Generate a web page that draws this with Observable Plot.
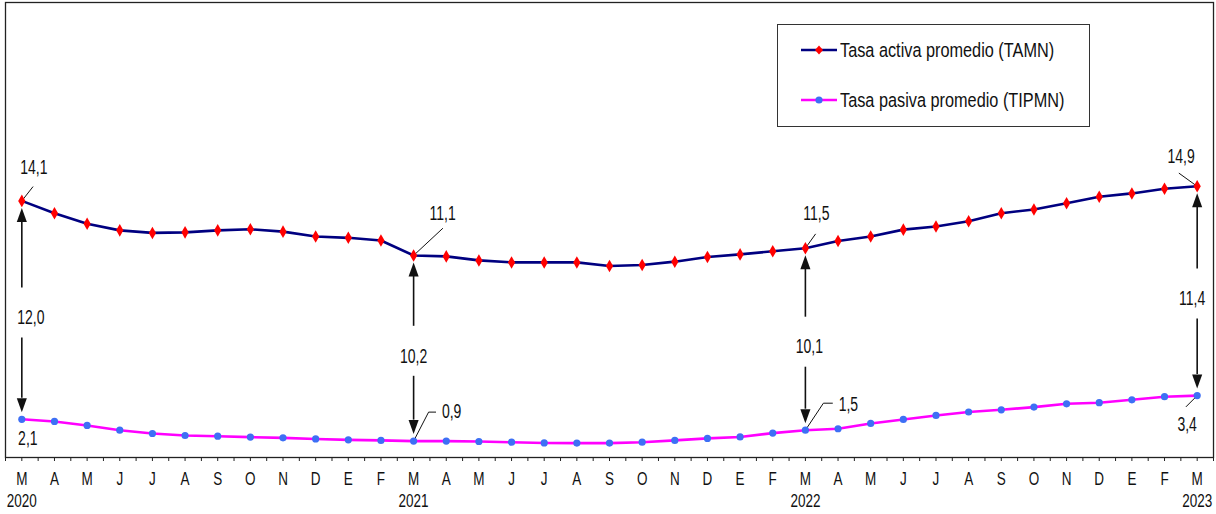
<!DOCTYPE html>
<html><head><meta charset="utf-8">
<script src="https://cdn.jsdelivr.net/npm/d3@7"></script>
<script src="https://cdn.jsdelivr.net/npm/@observablehq/plot@0.6"></script>
<style>
html,body{margin:0;padding:0;background:#fff;}
#wrap{position:relative;width:1216px;height:514px;}
.nf{font-family:"Liberation Sans",Arial,sans-serif;}
#legend{position:absolute;left:777px;top:24px;width:313px;height:103px;border:1px solid #333;box-sizing:border-box;background:#fff;}
.item{position:absolute;left:22px;display:flex;align-items:center;font-size:16.3px;color:#111;white-space:nowrap;}
.item svg{margin-right:2px;}
.item span{display:inline-block;transform:scaleY(1.28);}
</style></head><body>
<div id="wrap"></div>
<script>
// ---- data ----
const monthInitials = ["M","A","M","J","J","A","S","O","N","D","E","F"]; // starting March
const yearLabels = ["2020","2021","2022","2023"];
const yearIndex = [0, 12, 24, 36];
const seriesNames = ["Tasa activa promedio (TAMN)", "Tasa pasiva promedio (TIPMN)"];
const tamn = [14.1, 13.42, 12.84, 12.48, 12.34, 12.37, 12.48, 12.54, 12.41, 12.14, 12.07, 11.92,
              11.1, 11.05, 10.83, 10.72, 10.72, 10.72, 10.52, 10.58, 10.76, 11.02, 11.16, 11.33,
              11.5, 11.9, 12.14, 12.52, 12.69, 12.98, 13.42, 13.63, 13.97, 14.33, 14.51, 14.77, 14.9];
const tipmn = [2.1, 1.98, 1.76, 1.5, 1.32, 1.21, 1.17, 1.12, 1.08, 1.02, 0.97, 0.94,
               0.9, 0.9, 0.88, 0.84, 0.8, 0.79, 0.79, 0.84, 0.94, 1.05, 1.13, 1.34,
               1.5, 1.58, 1.87, 2.09, 2.31, 2.5, 2.62, 2.77, 2.95, 3.01, 3.17, 3.34, 3.4];
const spreadIndex = [0, 12, 24, 36];
const spreadValues = [12.0, 10.2, 10.1, 11.4];

// ---- layout / style ----
const W = 1216, H = 514, mL = 5, mR = 3, mT = 2, mB = 57;
const xDom = [-0.5, 36.5], yDom = [0, 25];
const kx = (W - mL - mR) / (xDom[1] - xDom[0]);
const ky = (H - mT - mB) / (yDom[1] - yDom[0]);
const FONT = '"Liberation Sans",Arial,sans-serif';
const STRETCH = 1.4;
const fmt = v => d3.format(".1f")(v).replace(".", ",");

const n = tamn.length;
const idx = d3.range(n);
const tamnData = idx.map(i => ({i, v: tamn[i]}));
const tipmnData = idx.map(i => ({i, v: tipmn[i]}));
const halfTicks = d3.range(xDom[0], xDom[1] + 0.01, 0.5);

// annotation layout (pixel offsets)
const valueAnno = [
  {s: tamn, i: 0,  lx: 12,  ly: -33, leader: [[11, -14]]},
  {s: tamn, i: 12, lx: 29,  ly: -42, leader: [[29, -27]]},
  {s: tamn, i: 24, lx: 11,  ly: -34, leader: [[10, -14]]},
  {s: tamn, i: 36, lx: -16, ly: -30, leader: [[-18, -13]]},
  {s: tipmn, i: 0,  lx: 6,   ly: 19,  leader: []},
  {s: tipmn, i: 12, lx: 38,  ly: -29, leader: [[15, -29], [22, -29]]},
  {s: tipmn, i: 24, lx: 43,  ly: -25, leader: [[18, -27], [27, -27]]},
  {s: tipmn, i: 36, lx: -10, ly: 29,  leader: [[-11, 11]]}
];
const leaderPts = [];
valueAnno.forEach((a, k) => {
  if (!a.leader.length) return;
  const v = a.s[a.i];
  leaderPts.push({k, x: a.i, y: v});
  a.leader.forEach(([dx, dy]) => leaderPts.push({k, x: a.i + dx / kx, y: v - dy / ky}));
});
const valueLabels = valueAnno.map(a => ({x: a.i + a.lx / kx, y: a.s[a.i] - a.ly / ky, t: fmt(a.s[a.i])}));

const spreadShift = [9, 0, 4, -5];
const spreads = spreadIndex.map((i, k) => ({
  i, top: tamn[i], bot: tipmn[i], mid: (tamn[i] + tipmn[i]) / 2,
  lx: i + spreadShift[k] / kx, t: fmt(spreadValues[k])
}));

const arrowHead = {
  draw(ctx, size) {
    const L = Math.sqrt(size);
    ctx.moveTo(0, 0); ctx.lineTo(-0.36 * L, L); ctx.lineTo(0.36 * L, L); ctx.closePath();
  }
};

const chart = Plot.plot({
  width: W, height: H,
  marginLeft: mL, marginRight: mR, marginTop: mT, marginBottom: mB,
  style: {fontFamily: FONT, background: "#fff", color: "#111"},
  x: {domain: xDom, axis: null},
  y: {domain: yDom, axis: null},
  marks: [
    Plot.frame({stroke: "#222", strokeWidth: 1.3}),
    Plot.ruleX(halfTicks, {x: d => d, y1: 0, y2: 0, insetBottom: -4, stroke: "#222", strokeWidth: 1}),
    Plot.text(idx, {x: d => d, y: 0, dy: 21, text: d => monthInitials[d % 12], fontSize: 13.5, fill: "#111"}),
    Plot.text(yearIndex, {x: d => d, y: 0, dy: 43, text: (d, k) => yearLabels[k], fontSize: 13.5, fill: "#111"}),
    // spread arrows
    Plot.ruleX(spreads, {x: "i", y1: "top", y2: "mid", insetTop: 21, insetBottom: 22, stroke: "#111", strokeWidth: 1.6}),
    Plot.ruleX(spreads, {x: "i", y1: "mid", y2: "bot", insetTop: 28, insetBottom: 21, stroke: "#111", strokeWidth: 1.6}),
    Plot.dot(spreads, {x: "i", y: "top", dy: 7, symbol: arrowHead, r: 7.9, fill: "#111", stroke: "none"}),
    Plot.dot(spreads, {x: "i", y: "bot", dy: -7, symbol: arrowHead, r: 7.9, rotate: 180, fill: "#111", stroke: "none"}),
    Plot.text(spreads, {x: "lx", y: "mid", dy: 8, text: "t", fontSize: 14, fill: "#111"}),
    // leaders
    Plot.line(leaderPts, {x: "x", y: "y", z: "k", stroke: "#111", strokeWidth: 1, curve: "linear"}),
    // series
    Plot.line(tamnData, {x: "i", y: "v", stroke: "#000080", strokeWidth: 2.6}),
    Plot.dot(tamnData, {x: "i", y: "v", symbol: "diamond", r: 3.8, fill: "#ff0000", stroke: "none"}),
    Plot.line(tipmnData, {x: "i", y: "v", stroke: "#ff00ff", strokeWidth: 2.6}),
    Plot.dot(tipmnData, {x: "i", y: "v", r: 3.6, fill: "#3d6ff5", stroke: "none"}),
    Plot.text(valueLabels, {x: "x", y: "y", text: "t", fontSize: 14, fill: "#111"})
  ]
});

// the reference's lettering is tall and narrow: stretch each label vertically about its anchor
chart.querySelectorAll("text").forEach(t => {
  let tr = t.getAttribute("transform");
  if (!tr) {
    const x = +t.getAttribute("x") || 0, y = +t.getAttribute("y") || 0;
    t.removeAttribute("x"); t.removeAttribute("y");
    tr = `translate(${x},${y})`;
  }
  t.setAttribute("transform", `${tr} scale(1,${STRETCH})`);
});

const wrap = document.getElementById("wrap");
wrap.appendChild(chart);

// legend (inside plot area, as in the reference)
const lg = document.createElement("div");
lg.id = "legend"; lg.className = "nf";
const sw = (line, markerSvg) => `<svg width="38" height="12"><line x1="1" y1="6" x2="37" y2="6" stroke="${line}" stroke-width="2.6"/>${markerSvg}</svg>`;
lg.innerHTML =
  `<div class="item" style="top:15px">${sw("#000080", '<path d="M19,1.5 L23,6 L19,10.5 L15,6Z" fill="#ff0000"/>')}<span>${seriesNames[0]}</span></div>` +
  `<div class="item" style="top:65px">${sw("#ff00ff", '<circle cx="19" cy="6" r="3.6" fill="#3d6ff5"/>')}<span>${seriesNames[1]}</span></div>`;
wrap.appendChild(lg);
</script>
</body></html>
